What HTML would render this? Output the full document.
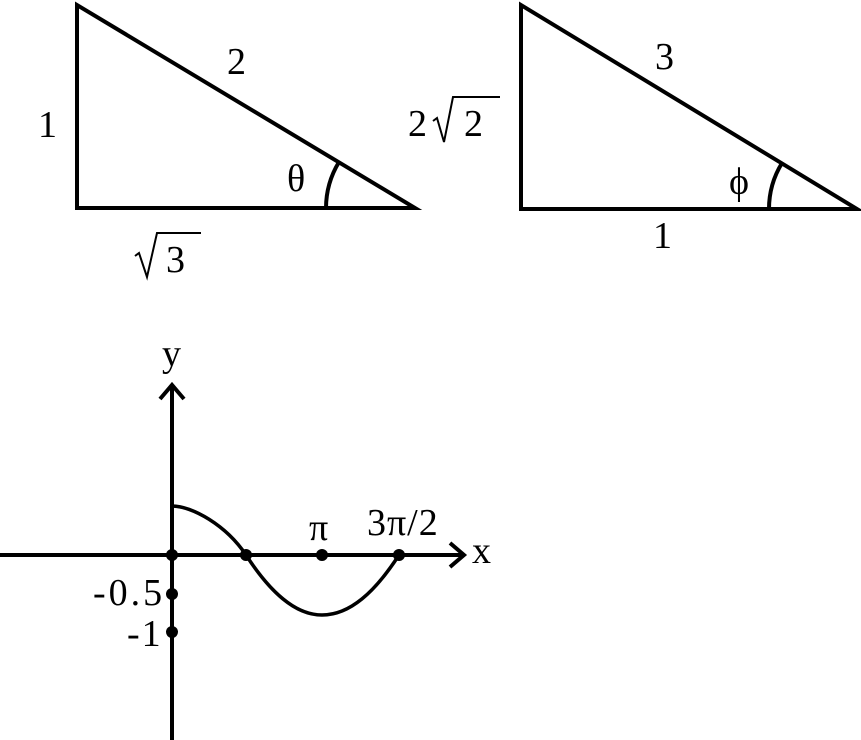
<!DOCTYPE html>
<html><head><style>body{margin:0;background:#fff}svg{display:block}</style></head><body>
<svg width="861" height="740" viewBox="0 0 861 740" xmlns="http://www.w3.org/2000/svg" font-family="Liberation Serif, serif" font-size="38" fill="#000">
<g stroke="#000" stroke-width="4" fill="none" stroke-linejoin="miter">
<polygon points="77,5 77,208 415,208"/>
<path d="M326,208 A89,89 0 0 1 339,162"/>
<polygon points="521,5 521,209 857,209"/>
<path d="M769,209 A88,88 0 0 1 782,163"/>
<line x1="0" y1="555" x2="462" y2="555"/>
<polyline points="450,543 464,555 450,567"/>
<line x1="172" y1="740" x2="172" y2="387"/>
<polyline points="160,399 172,385 184,399"/>
</g>
<g stroke="#000" stroke-width="2" fill="none">
<path d="M135,256 L139,253 L147,277 L157,233 L201,233"/>
<path d="M433,121 L437,118 L444,142 L453,97 L500,97"/>
</g>
<path fill="none" stroke="#000" stroke-width="3.5" d="M172,506 C192,506 226,525 246,555 C270,592 295,615 322,615 C350,615 375,592 399,555"/>
<g>
<circle cx="172" cy="555" r="6"/><circle cx="246" cy="555" r="6"/><circle cx="322" cy="555" r="6"/><circle cx="399" cy="555" r="6"/>
<circle cx="172" cy="594" r="6"/><circle cx="172" cy="632" r="6"/>
</g>
<text x="38" y="137">1</text>
<text x="227" y="74">2</text>
<text x="287" y="191">θ</text>
<text x="166" y="272">3</text>
<text x="655" y="69">3</text>
<text x="408" y="136">2</text><text x="464" y="136">2</text>
<text x="729" y="194">ϕ</text>
<text x="653" y="248">1</text>
<text x="162" y="366">y</text>
<text x="472" y="563">x</text>
<text x="309" y="540">π</text>
<text x="367" y="535" letter-spacing="1">3π/2</text>
<text x="93" y="605" letter-spacing="3">-0.5</text>
<text x="127" y="646" letter-spacing="2">-1</text>
</svg>
</body></html>
